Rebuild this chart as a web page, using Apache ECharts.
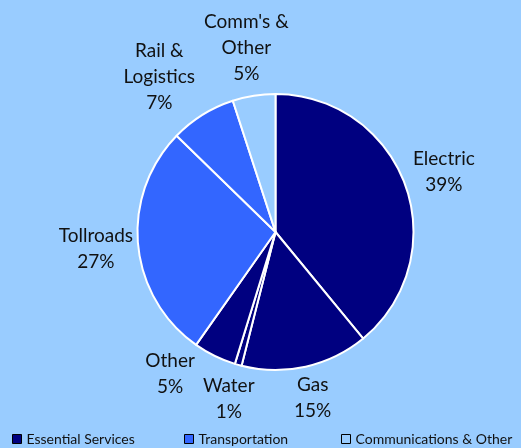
<!DOCTYPE html>
<html>
<head>
<meta charset="utf-8">
<script src="https://cdn.jsdelivr.net/npm/echarts@6/dist/echarts.min.js"></script>
<style>
  html, body { margin: 0; padding: 0; background: #99ccff; }
  #chart { width: 521px; height: 448px; }
</style>
</head>
<body>
<div id="chart"></div>
<script>
// slice data, clockwise from 12 o'clock
const sliceNames = ['Electric', 'Gas', 'Water', 'Other', 'Tollroads', 'Rail &\nLogistics', "Comm's &\nOther"];
const sliceValues = [39, 14.9, 0.8, 5, 27.5, 7.7, 5];
const sliceLabels = ['39%', '15%', '1%', '5%', '27%', '7%', '5%'];
const sliceGroup = [0, 0, 0, 0, 1, 1, 2];

const groupNames = ['Essential Services', 'Transportation', 'Communications & Other'];
const groupColors = ['#000080', '#3366ff', '#99ccff'];

const CX = 275.5, CY = 232, R = 138, GAP = 3, PAD = 8;
const FONT_SIZE = 19, LINE_H = 26, FONT = 'Lato';

const chart = echarts.init(document.getElementById('chart'));

const total = sliceValues.reduce((a, b) => a + b, 0);
const midAng = [];
let acc = 0;
sliceValues.forEach((v) => { midAng.push((acc + v / 2) / total * 2 * Math.PI); acc += v; });

// label box sizes
const ctx = document.createElement('canvas').getContext('2d');
ctx.font = FONT_SIZE + 'px ' + FONT;
const boxes = sliceNames.map((n, i) => {
    const lines = (n + '\n' + sliceLabels[i]).split('\n');
    return {
        hw: Math.max(...lines.map((l) => ctx.measureText(l).width)) / 2,
        hh: lines.length * LINE_H / 2,
    };
});

// put a label box outside the circle along angle a
function boxAt(i, a) {
    const ux = Math.sin(a), uy = -Math.cos(a);
    const b = boxes[i];
    const d = R + GAP + Math.abs(ux) * b.hw + Math.abs(uy) * b.hh;
    return { x: CX + d * ux, y: CY + d * uy, hw: b.hw, hh: b.hh, a: a };
}
function overlap(p, q) {
    return Math.abs(p.x - q.x) < p.hw + q.hw + PAD && Math.abs(p.y - q.y) < p.hh + q.hh + PAD;
}

const placed = sliceNames.map((n, i) => boxAt(i, midAng[i]));
// neighbours that collide: the larger slice's label turns away
for (let i = 0; i < placed.length; i++) {
    const j = (i + 1) % placed.length;
    let k = 0;
    while (overlap(placed[i], placed[j]) && k++ < 90) {
        if (sliceValues[i] >= sliceValues[j]) {
            placed[i] = boxAt(i, placed[i].a - Math.PI / 360);
        } else {
            placed[j] = boxAt(j, placed[j].a + Math.PI / 360);
        }
    }
}

const pieData = sliceNames.map((name, i) => ({
    name: name,
    value: sliceValues[i],
    pct: sliceLabels[i],
    itemStyle: { color: groupColors[sliceGroup[i]] },
}));

const legendLeft = [12, 184, 341];

const options = {
    backgroundColor: '#99ccff',
    animation: false,
    legend: groupNames.map((g, i) => ({
        top: 432,
        left: legendLeft[i],
        padding: 0,
        itemWidth: 9,
        itemHeight: 9,
        icon: 'rect',
        itemStyle: { borderColor: '#000', borderWidth: 1 },
        textStyle: { fontSize: 14, color: '#111', fontFamily: FONT },
        data: [g],
    })),
    series: [
        {
            type: 'pie',
            center: [CX, CY],
            radius: R,
            startAngle: 90,
            clockwise: true,
            data: pieData,
            itemStyle: { borderColor: '#fff', borderWidth: 2 },
            label: {
                show: true,
                position: 'outside',
                fontSize: FONT_SIZE,
                lineHeight: LINE_H,
                color: '#111',
                fontFamily: FONT,
                overflow: 'none',
                formatter: (p) => p.name + '\n' + p.data.pct,
            },
            labelLine: { show: false },
            labelLayout: (p) => {
                const b = placed[p.dataIndex];
                return { x: b.x, y: b.y, align: 'center', verticalAlign: 'middle', width: 200 };
            },
        },
    ].concat(groupNames.map((g, i) => ({
        type: 'pie',
        name: g,
        data: [],
        itemStyle: { color: groupColors[i] },
    }))),
};

chart.setOption(options);
</script>
</body>
</html>
